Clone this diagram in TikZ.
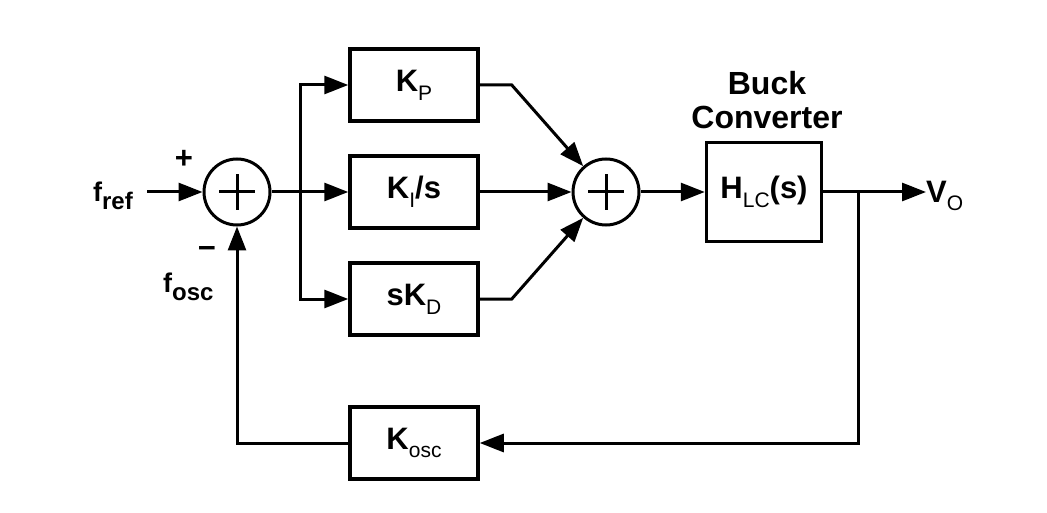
\documentclass[tikz,border=0pt]{standalone}
\usepackage{fontspec}
\setmainfont{Liberation Sans}
\usetikzlibrary{arrows.meta}
\newcommand\bigf{\fontsize{31}{33}\selectfont\bfseries}
\newcommand\labf{\fontsize{27}{29}\selectfont\bfseries}
\newcommand\sbr[1]{\raisebox{-0.28em}{\fontsize{21}{21}\selectfont\mdseries #1}}
\newcommand\sbb[1]{\raisebox{-8pt}{\fontsize{24}{24}\selectfont\bfseries #1}}
\tikzset{
  blk/.style={draw, line width=3.5pt, minimum width=128pt, minimum height=72pt, inner sep=0pt, font=\bigf},
  sumc/.style={draw, circle, line width=3pt, minimum size=66pt, inner sep=0pt},
  wire/.style={line width=3pt},
  arr/.style={wire, -{Triangle[length=24pt,width=18pt]}},
  lab/.style={inner sep=0pt, font=\bigf},
}
\begin{document}
\begin{tikzpicture}[x=1pt,y=-1pt]
\useasboundingbox[fill=white] (0,0) rectangle (1047,513);
% blocks
\node[blk] (kp) at (414,85) {K\sbr{P}};
\node[blk] (ki) at (414,192) {K\sbr{I}/s};
\node[blk] (kd) at (414,299) {sK\sbr{D}};
\node[blk] (kosc) at (414,443) {K\sbr{osc}};
\node[blk, minimum width=115pt, minimum height=99pt] (hlc) at (764,192) {H\sbr{LC}(s)};
% summing junctions
\node[sumc] (s1) at (237,192) {};
\node[sumc] (s2) at (606,192) {};
\foreach \s in {s1,s2}{
  \draw[wire] ([xshift=-18pt]\s.center) -- ([xshift=18pt]\s.center);
  \draw[wire] ([yshift=-18pt]\s.center) -- ([yshift=18pt]\s.center);
}
% labels
\node[lab, font=\labf, anchor=base east] (fref) at (133,202) {f\sbb{ref}};
\node[lab] (plus) at (184,159) {+};
\node[lab] (minus) at (207,252) {−};
\node[lab, font=\labf, anchor=base west] (fosc) at (163,292) {f\sbb{osc}};
\node[lab, align=center, font=\fontsize{32}{34}\selectfont\bfseries] (buck) at (767,100) {Buck\\Converter};
\node[lab, anchor=west] (vo) at (926,196) {V\sbr{O}};
% coordinates
\coordinate (sp) at (300,192);
\coordinate (br) at (858,192);
% wires
\draw[arr, shorten <=14pt] (fref.east |- s1) -- (s1);
\draw[arr] (s1.east) -- (ki.west);
\draw[arr] (sp) |- (kp.west);
\draw[arr] (sp) |- (kd.west);
\draw[arr] (kp.east) -- ++(32,0) -- (s2);
\draw[arr] (ki.east) -- (s2.west);
\draw[arr] (kd.east) -- ++(32,0) -- (s2);
\draw[arr] (s2.east) -- (hlc.west);
\draw[arr] (hlc.east) -- (hlc.east -| vo.west);
\draw[arr] (br) |- (kosc.east);
\draw[arr] (kosc.west) -| (s1.south);
\end{tikzpicture}
\end{document}
